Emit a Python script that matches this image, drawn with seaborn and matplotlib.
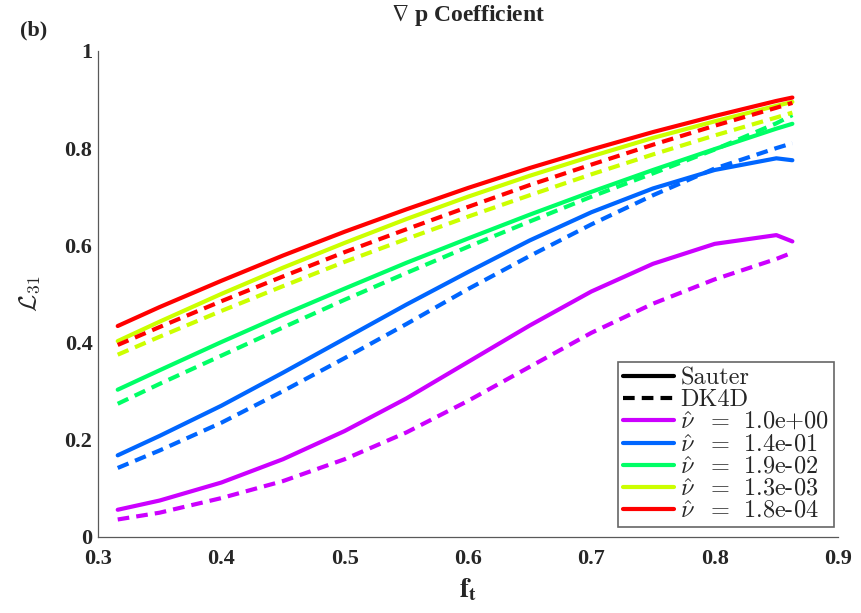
import numpy as np
import pandas as pd
import matplotlib
matplotlib.use("Agg")
import matplotlib.pyplot as plt
from matplotlib.lines import Line2D
from matplotlib.font_manager import FontProperties
import seaborn as sns

# ---- data ----
ft = [0.316, 0.35, 0.40, 0.45, 0.50, 0.55, 0.60, 0.65, 0.70, 0.75, 0.80, 0.85, 0.863]

nu_labels = ["1.0e+00", "1.4e-01", "1.9e-02", "1.3e-03", "1.8e-04"]

sauter_1p0e0 = [0.056, 0.075, 0.112, 0.160, 0.218, 0.285, 0.360, 0.435, 0.505, 0.562, 0.603, 0.621, 0.608]
dk4d_1p0e0   = [0.036, 0.050, 0.080, 0.115, 0.160, 0.215, 0.280, 0.350, 0.420, 0.480, 0.530, 0.572, 0.585]

sauter_1p4e1 = [0.168, 0.208, 0.270, 0.338, 0.408, 0.478, 0.545, 0.610, 0.668, 0.717, 0.755, 0.779, 0.775]
dk4d_1p4e1   = [0.142, 0.178, 0.235, 0.300, 0.368, 0.438, 0.510, 0.578, 0.643, 0.703, 0.758, 0.800, 0.810]

sauter_1p9e2 = [0.303, 0.343, 0.401, 0.457, 0.511, 0.564, 0.614, 0.663, 0.710, 0.755, 0.798, 0.840, 0.850]
dk4d_1p9e2   = [0.274, 0.315, 0.373, 0.431, 0.488, 0.543, 0.597, 0.649, 0.700, 0.748, 0.797, 0.851, 0.868]

sauter_1p3e3 = [0.403, 0.443, 0.500, 0.554, 0.605, 0.654, 0.700, 0.743, 0.783, 0.821, 0.855, 0.887, 0.895]
dk4d_1p3e3   = [0.375, 0.412, 0.465, 0.516, 0.566, 0.613, 0.659, 0.703, 0.746, 0.787, 0.826, 0.863, 0.873]

sauter_1p8e4 = [0.434, 0.473, 0.527, 0.579, 0.628, 0.674, 0.718, 0.759, 0.797, 0.833, 0.866, 0.897, 0.904]
dk4d_1p8e4   = [0.395, 0.432, 0.485, 0.536, 0.586, 0.633, 0.679, 0.724, 0.766, 0.807, 0.846, 0.883, 0.893]

series = {
    ("1.0e+00", "Sauter"): sauter_1p0e0, ("1.0e+00", "DK4D"): dk4d_1p0e0,
    ("1.4e-01", "Sauter"): sauter_1p4e1, ("1.4e-01", "DK4D"): dk4d_1p4e1,
    ("1.9e-02", "Sauter"): sauter_1p9e2, ("1.9e-02", "DK4D"): dk4d_1p9e2,
    ("1.3e-03", "Sauter"): sauter_1p3e3, ("1.3e-03", "DK4D"): dk4d_1p3e3,
    ("1.8e-04", "Sauter"): sauter_1p8e4, ("1.8e-04", "DK4D"): dk4d_1p8e4,
}

rows = []
for (nu, model), vals in series.items():
    for x, y in zip(ft, vals):
        rows.append({"ft": x, "L31": y, "nu": nu, "model": model})
df = pd.DataFrame(rows)

colors = ["#CC00FF", "#0066FF", "#00FF66", "#CCFF00", "#FF0000"]
palette = dict(zip(nu_labels, colors))
dash = (2.8, 1.7)

sns.set_style("white")
plt.rcParams["font.family"] = ["Liberation Serif", "DejaVu Serif"]
plt.rcParams["mathtext.fontset"] = "cm"

fig = plt.figure(figsize=(8.61, 6.13), dpi=100)
ax = fig.add_axes([0.1138, 0.124, 0.8595, 0.793])

sns.lineplot(data=df, x="ft", y="L31", hue="nu", style="model",
             hue_order=nu_labels, palette=palette,
             style_order=["Sauter", "DK4D"],
             dashes={"Sauter": "", "DK4D": dash},
             linewidth=3.0, legend=False, ax=ax, sort=False,
             estimator=None)

ax.set_xlim(0.3, 0.9)
ax.set_ylim(0, 1)
ax.set_xticks([0.3, 0.4, 0.5, 0.6, 0.7, 0.8, 0.9])
ax.set_yticks([0, 0.2, 0.4, 0.6, 0.8, 1.0])
ax.set_xticklabels(["0.3", "0.4", "0.5", "0.6", "0.7", "0.8", "0.9"])
ax.set_yticklabels(["0", "0.2", "0.4", "0.6", "0.8", "1"])
for lab in ax.get_xticklabels() + ax.get_yticklabels():
    lab.set_fontweight("bold")
    lab.set_fontsize(16)
ax.tick_params(direction="in", length=5, width=0.8, color="0.35", pad=4,
               top=False, right=False)
ax.tick_params(axis="x", pad=9)
for s in ["top", "right"]:
    ax.spines[s].set_visible(False)
for s in ["left", "bottom"]:
    ax.spines[s].set_color("0.35")
    ax.spines[s].set_linewidth(0.9)

ax.set_xlabel("")
ax.set_ylabel("")
fig.text(0.5436, 0.037, r"$\mathbf{f}_{\mathbf{t}}$", ha="center", va="center",
         fontsize=20, math_fontfamily="stix")
fig.text(0.035, 0.52, r"$\mathcal{L}_{31}$", ha="center", va="center",
         rotation=90, fontsize=18, math_fontfamily="cm")
fig.text(0.5436, 0.975, r"$\nabla$ p Coefficient", ha="center", va="center",
         fontsize=17, fontweight="bold", math_fontfamily="stix")
fig.text(0.023, 0.951, "(b)", ha="left", va="center", fontsize=16,
         fontweight="bold")

handles = [Line2D([], [], color="black", lw=3, ls="-"),
           Line2D([], [], color="black", lw=3, ls=(0, dash))]
labels = ["Sauter", "DK4D"]
for nu, c in zip(nu_labels, colors):
    handles.append(Line2D([], [], color=c, lw=3, ls="-"))
    labels.append(r"$\hat{\nu}\ \ =\;\,$" + nu)

prop = FontProperties(family="cmr10", size=17.5, math_fontfamily="cm")
leg = ax.legend(handles, labels, loc="lower right",
                bbox_to_anchor=(0.995, 0.02), borderaxespad=0,
                prop=prop, frameon=True, fancybox=False,
                labelspacing=0.0, handlelength=2.1, handletextpad=0.25,
                borderpad=0.2)
leg.get_frame().set_edgecolor("0.25")
leg.get_frame().set_linewidth(1.2)

fig.savefig("out.png", dpi=100)
